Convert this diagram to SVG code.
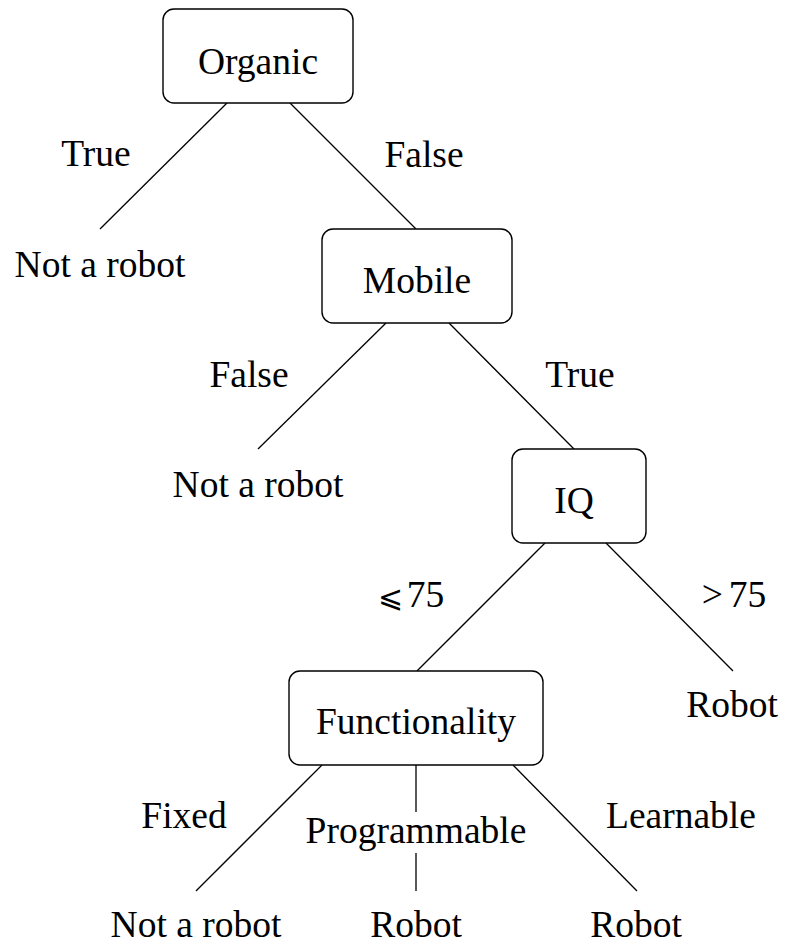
<svg xmlns="http://www.w3.org/2000/svg" width="785" height="946" viewBox="0 0 785 946">
  <style>
    .box { fill: #ffffff; stroke: #000000; stroke-width: 1.4; }
    .edge { stroke: #000000; stroke-width: 1.3; fill: none; }
  </style>
  <rect width="785" height="946" fill="#ffffff"/>

  <!-- branches of the decision tree -->
  <g id="connectors">
    <line class="edge" x1="227" y1="103" x2="100" y2="229"/>
    <line class="edge" x1="290" y1="103" x2="416" y2="229"/>
    <line class="edge" x1="386" y1="323" x2="258" y2="449"/>
    <line class="edge" x1="449" y1="323" x2="574" y2="449"/>
    <line class="edge" x1="545" y1="543" x2="417" y2="671"/>
    <line class="edge" x1="606" y1="543" x2="733" y2="671"/>
    <line class="edge" x1="322" y1="765" x2="196" y2="891"/>
    <line class="edge" x1="416" y1="765" x2="416" y2="812"/>
    <line class="edge" x1="416" y1="853" x2="416" y2="891"/>
    <line class="edge" x1="513" y1="765" x2="637" y2="891"/>
  </g>

  <g font-family="Liberation Serif" font-size="37.5" text-anchor="middle" fill="#000000">
    <!-- branch labels -->
    <g id="edge-labels">
      <text x="96" y="166">True</text>
      <text x="424" y="167">False</text>
      <text x="249" y="387">False</text>
      <text x="580" y="387">True</text>
      <text x="411" y="607"><tspan font-family="DejaVu Serif" font-size="30">⩽</tspan><tspan dx="4">75</tspan></text>
      <text x="734" y="607">&gt;<tspan dx="6">75</tspan></text>
      <text x="184" y="828">Fixed</text>
      <text x="416" y="843">Programmable</text>
      <text x="681" y="828">Learnable</text>
    </g>

    <!-- decision nodes -->
    <g id="node-organic">
      <rect class="box" x="163" y="9" width="190" height="94" rx="11"/>
      <text x="258" y="74">Organic</text>
    </g>
    <g id="node-mobile">
      <rect class="box" x="322" y="229" width="190" height="94" rx="11"/>
      <text x="417" y="293">Mobile</text>
    </g>
    <g id="node-iq">
      <rect class="box" x="512" y="449" width="134" height="94" rx="11"/>
      <text x="574" y="513">IQ</text>
    </g>
    <g id="node-functionality">
      <rect class="box" x="289" y="671" width="254" height="94" rx="11"/>
      <text x="416" y="734">Functionality</text>
    </g>

    <!-- leaves -->
    <g id="leaf-organic-true"><text x="100" y="277">Not a robot</text></g>
    <g id="leaf-mobile-false"><text x="258" y="497">Not a robot</text></g>
    <g id="leaf-iq-high"><text x="732" y="717">Robot</text></g>
    <g id="leaf-fixed"><text x="196" y="937">Not a robot</text></g>
    <g id="leaf-programmable"><text x="416" y="937">Robot</text></g>
    <g id="leaf-learnable"><text x="636" y="937">Robot</text></g>
  </g>
</svg>
